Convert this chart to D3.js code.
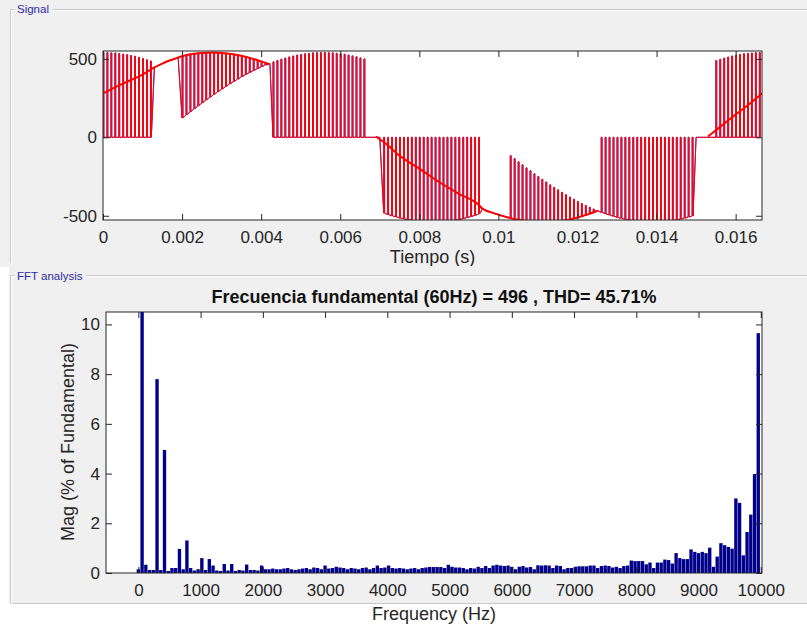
<!DOCTYPE html>
<html><head><meta charset="utf-8">
<script src="https://cdn.jsdelivr.net/npm/d3@7"></script>
<style>
html,body{margin:0;padding:0;background:#f0f0f0;}
svg{display:block;font-family:"Liberation Sans",Arial,sans-serif;}
</style></head><body>
<svg id="fig" width="807" height="632"></svg>
<script>
// ---------- Signal: PWM output, one 60 Hz cycle, one pulse per carrier period ----------
const pulsePeriod = 1e-4;       // carrier period (s)
const pulseOn = 0.22e-4;        // time spent on the high level of each pulse (s)
// lower level of each carrier period (V)
const pulseLow = [
  0,0,0,0,0,0,0,0,0,0,0,0,0,
  445,458,470,481,491,500,508,
  123,143,163,182,201,220,238,256,274,291,308,325,341,356,371,386,400,413,426,438,450,461,466,
  0,0,0,0,0,0,0,0,0,0,0,0,0,0,0,0,0,0,0,0,0,0,0,0,
  0,0,0,0,
  -483,-492,-500,-507,-514,-519,-525,-529,-533,-536,-538,-539,-540,-540,-539,-537,-535,-532,-528,-523,-518,-511,-505,-497,-489,
  -455,-465,-475,-485,-493,-501,-508,
  -515,-521,-526,-530,-533,-536,-538,-539,-540,-540,-539,-537,-534,-531,-527,-523,-517,-511,-504,-496,-488,-479,-470,
  -478,-487,-495,-503,-510,-516,-522,-527,-531,-534,-537,-539,-540,-540,-540,-538,-536,-534,-530,-526,-521,-515,-508,-501,
  0,0,0,0,0,
  0,0,0,0,0,0,0,0,0,0,0,0
];
// upper level of each carrier period (V)
const pulseHigh = [
  540,540,538,537,534,530,526,521,516,509,502,494,486,
  445,458,470,481,491,500,508,
  517,522,527,531,535,537,539,540,540,539,538,536,533,530,525,520,514,508,500,492,484,474,470,
  481,490,498,505,512,518,524,528,532,535,538,539,540,540,539,538,535,532,529,524,519,513,506,499,
  0,0,0,0,
  0,0,0,0,0,0,0,0,0,0,0,0,0,0,0,0,0,0,0,0,0,0,0,0,0,
  -455,-465,-475,-485,-493,-501,-508,
  -117,-136,-156,-175,-195,-213,-232,-250,-268,-285,-303,-319,-335,-351,-366,-381,-395,-409,-422,-434,-446,-457,-466,
  0,0,0,0,0,0,0,0,0,0,0,0,0,0,0,0,0,0,0,0,0,0,0,0,
  0,0,0,0,0,
  489,497,505,511,518,523,528,532,535,537,539,540
];
// intermediate level, visible as a smooth arc (null splits the arcs)
const arcTime = [0.0153,0.0156,0.016,0.0163,0.016667, null,
  0,0.0005,0.001,0.0013,0.0015,0.0017,0.0019,0.002,0.0025,0.0028,0.003,0.0035,0.004,0.0042, null,
  0.0069,0.0072,0.0075,0.0078,0.008,0.0085,0.009,0.0095,0.0096,0.0099,0.0102,0.0105,0.0108,0.0111,0.0114,0.0117,0.012,0.0123,0.0125];
const arcValue = [5,65,145,203,280, null,
  280,342,400,445,470,491,508,517,537,540,538,520,484,468, null,
  5,-50,-118,-168,-200,-285,-360,-430,-455,-485,-508,-526,-536,-540,-538,-530,-511,-488,-468];
const timeTicks = [0,0.002,0.004,0.006,0.008,0.01,0.012,0.014,0.016];
const timeTickLabels = ["0","0.002","0.004","0.006","0.008","0.01","0.012","0.014","0.016"];
const voltTicks = [-500,0,500];
const voltTickLabels = ["-500","0","500"];

// ---------- FFT: harmonic magnitudes (% of fundamental), 60 Hz spacing ----------
const harmonicStep = 60;
const harmonicMag = [
  0.15,100,0.33,0.12,0.12,7.8,0.12,4.95,0.08,0.2,
  0.2,0.97,0.15,1.31,0.2,0.1,0.15,0.6,0.12,0.56,
  0.3,0.1,0.08,0.36,0.1,0.36,0.08,0.12,0.1,0.34,
  0.12,0.12,0.1,0.3,0.15,0.15,0.18,0.15,0.15,0.18,
  0.2,0.15,0.12,0.15,0.18,0.2,0.15,0.22,0.2,0.15,
  0.3,0.18,0.2,0.25,0.22,0.2,0.15,0.2,0.18,0.15,
  0.2,0.22,0.15,0.2,0.3,0.2,0.22,0.3,0.2,0.18,
  0.2,0.18,0.15,0.18,0.2,0.15,0.2,0.22,0.24,0.24,
  0.24,0.24,0.2,0.33,0.25,0.22,0.22,0.2,0.15,0.2,
  0.18,0.25,0.2,0.28,0.2,0.3,0.33,0.3,0.28,0.3,
  0.25,0.15,0.25,0.28,0.22,0.24,0.15,0.31,0.3,0.31,
  0.3,0.2,0.3,0.28,0.15,0.2,0.2,0.25,0.27,0.27,
  0.27,0.3,0.3,0.2,0.28,0.3,0.28,0.22,0.25,0.2,
  0.28,0.3,0.5,0.48,0.48,0.48,0.35,0.42,0.2,0.42,
  0.42,0.54,0.52,0.38,0.8,0.6,0.56,0.56,0.95,0.85,
  0.8,0.85,0.8,1.02,0.25,0.66,1.2,1.12,1.05,0.98,
  3.0,2.82,0.71,1.65,2.35,3.98,9.65
];
const freqTicks = [0,1000,2000,3000,4000,5000,6000,7000,8000,9000,10000];
const magTicks = [0,2,4,6,8,10];
const fftTitle = "Frecuencia fundamental (60Hz) = 496 , THD= 45.71%";

// ---------- drawing ----------
const W = 807, H = 632;
const ink = "#262626";
const svg = d3.select("#fig");

svg.append("rect").attr("width", W).attr("height", H).attr("fill", "#f0f0f0");
svg.append("rect").attr("x", 0).attr("y", 267).attr("width", 9).attr("height", H - 267).attr("fill", "#ffffff");
svg.append("rect").attr("x", 0).attr("y", 604).attr("width", W).attr("height", H - 604).attr("fill", "#ffffff");

// etched panel borders
function etched(pts) {
  const l = d3.line();
  svg.append("path").attr("d", l(pts)).attr("fill", "none").attr("stroke", "#c9c9c9").attr("stroke-width", 1);
  svg.append("path").attr("d", l(pts.map(p => [p[0] + 1, p[1] + 1]))).attr("fill", "none").attr("stroke", "#ffffff").attr("stroke-width", 1);
}
etched([[14.5, 9.5], [10.5, 9.5], [10.5, 263.5]]);
etched([[52.5, 9.5], [807, 9.5]]);
etched([[14.5, 275.5], [10.5, 275.5], [10.5, 603.5], [807, 603.5]]);
etched([[86.5, 275.5], [807, 275.5]]);

function panelTitle(txt, x, y) {
  svg.append("text").attr("x", x).attr("y", y).attr("fill", "#2a2aa8")
    .attr("font-size", "11.5px").text(txt);
}
panelTitle("Signal", 17, 12.5);
panelTitle("FFT analysis", 17, 279.5);

function styleAxis(g) {
  g.select(".domain").remove();
  g.selectAll(".tick line").attr("stroke", ink);
  g.selectAll(".tick text").attr("fill", ink).attr("font-size", "17px");
}

// ----- signal axes -----
svg.append("clipPath").attr("id", "topPanel").append("rect").attr("x", 0).attr("y", 0).attr("width", W).attr("height", 266);
const sigG = svg.append("g").attr("clip-path", "url(#topPanel)");
const x1 = d3.scaleLinear().domain([0, 1 / 60]).range([103, 762]);
const y1 = d3.scaleLinear().domain([-527, 550]).range([220, 51]);

sigG.append("rect").attr("x", 103).attr("y", 51).attr("width", 659).attr("height", 169).attr("fill", "#ffffff");
sigG.append("clipPath").attr("id", "plot1").append("rect").attr("x", 103).attr("y", 51).attr("width", 659).attr("height", 169);

const trace = [];
pulseLow.forEach((lo, k) => {
  const hi = pulseHigh[k], t0 = k * pulsePeriod;
  if (lo === hi) trace.push([t0, lo]);
  else trace.push([t0, lo], [t0, hi], [t0 + pulseOn, hi], [t0 + pulseOn, lo]);
});
const traceLine = d3.line().x(d => x1(d[0])).y(d => y1(d[1]));
const p1 = sigG.append("g").attr("clip-path", "url(#plot1)");
// full-signal trace (blue) under the analysed window (red)
p1.append("path").datum(trace).attr("d", traceLine).attr("fill", "none")
  .attr("stroke", "#3030e0").attr("stroke-width", 1);
p1.append("path").datum(trace).attr("d", traceLine).attr("fill", "none")
  .attr("stroke", "#ff0000").attr("stroke-width", 1);
const arcPts = arcTime.map((t, i) => ({ t, v: arcValue[i] }));
const arcLine = d3.line().defined(d => d.t !== null).x(d => x1(d.t)).y(d => y1(d.v)).curve(d3.curveMonotoneX);
p1.append("path").datum(arcPts).attr("d", arcLine).attr("fill", "none")
  .attr("stroke", "#ff0000").attr("stroke-width", 2);

sigG.append("g").attr("transform", "translate(0,220)")
  .call(d3.axisBottom(x1).tickValues(timeTicks).tickFormat((d, i) => timeTickLabels[i]).tickSizeInner(-6).tickSizeOuter(0).tickPadding(11))
  .call(styleAxis);
sigG.append("g").attr("transform", "translate(0,51)")
  .call(d3.axisTop(x1).tickValues(timeTicks).tickFormat("").tickSizeInner(-6).tickSizeOuter(0))
  .call(styleAxis);
sigG.append("g").attr("transform", "translate(103,0)")
  .call(d3.axisLeft(y1).tickValues(voltTicks).tickFormat((d, i) => voltTickLabels[i]).tickSizeInner(-6).tickSizeOuter(0).tickPadding(6))
  .call(styleAxis);
sigG.append("g").attr("transform", "translate(762,0)")
  .call(d3.axisRight(y1).tickValues(voltTicks).tickFormat("").tickSizeInner(-6).tickSizeOuter(0))
  .call(styleAxis);
sigG.append("rect").attr("x", 103).attr("y", 51).attr("width", 659).attr("height", 169)
  .attr("fill", "none").attr("stroke", ink).attr("stroke-width", 1);
sigG.append("text").attr("x", 432.5).attr("y", 263).attr("text-anchor", "middle")
  .attr("fill", ink).attr("font-size", "18px").text("Tiempo (s)");

// ----- FFT axes -----
const x2 = d3.scaleLinear().domain([-520, 10020]).range([106, 762]);
const y2 = d3.scaleLinear().domain([0, 10.5]).range([573, 312]);
svg.append("rect").attr("x", 106).attr("y", 312).attr("width", 656).attr("height", 261).attr("fill", "#ffffff");
svg.append("clipPath").attr("id", "plot2").append("rect").attr("x", 106).attr("y", 312).attr("width", 656).attr("height", 261);
const bars = harmonicMag.map((m, n) => ({ f: n * harmonicStep, m }));
const halfW = 0.9 * harmonicStep / 2;
svg.append("g").attr("clip-path", "url(#plot2)").selectAll("rect").data(bars).join("rect")
  .attr("x", d => x2(d.f - halfW))
  .attr("width", d => x2(d.f + halfW) - x2(d.f - halfW))
  .attr("y", d => y2(d.m))
  .attr("height", d => y2(0) - y2(d.m))
  .attr("fill", "#00008b");

svg.append("g").attr("transform", "translate(0,573)")
  .call(d3.axisBottom(x2).tickValues(freqTicks).tickFormat(d3.format("d")).tickSizeInner(-6).tickSizeOuter(0).tickPadding(11))
  .call(styleAxis);
svg.append("g").attr("transform", "translate(0,312)")
  .call(d3.axisTop(x2).tickValues(freqTicks).tickFormat("").tickSizeInner(-6).tickSizeOuter(0))
  .call(styleAxis);
svg.append("g").attr("transform", "translate(106,0)")
  .call(d3.axisLeft(y2).tickValues(magTicks).tickFormat(d3.format("d")).tickSizeInner(-6).tickSizeOuter(0).tickPadding(6))
  .call(styleAxis);
svg.append("g").attr("transform", "translate(762,0)")
  .call(d3.axisRight(y2).tickValues(magTicks).tickFormat("").tickSizeInner(-6).tickSizeOuter(0))
  .call(styleAxis);
svg.append("rect").attr("x", 106).attr("y", 312).attr("width", 656).attr("height", 261)
  .attr("fill", "none").attr("stroke", ink).attr("stroke-width", 1);

svg.append("text").attr("x", 434).attr("y", 303).attr("text-anchor", "middle")
  .attr("fill", "#111111").attr("font-size", "18px").attr("font-weight", "bold").text(fftTitle);
svg.append("text").attr("x", 434).attr("y", 620).attr("text-anchor", "middle")
  .attr("fill", ink).attr("font-size", "18px").text("Frequency (Hz)");
svg.append("text").attr("transform", "translate(73.5,442) rotate(-90)").attr("text-anchor", "middle")
  .attr("fill", ink).attr("font-size", "18px").text("Mag (% of Fundamental)");
</script>
</body></html>
